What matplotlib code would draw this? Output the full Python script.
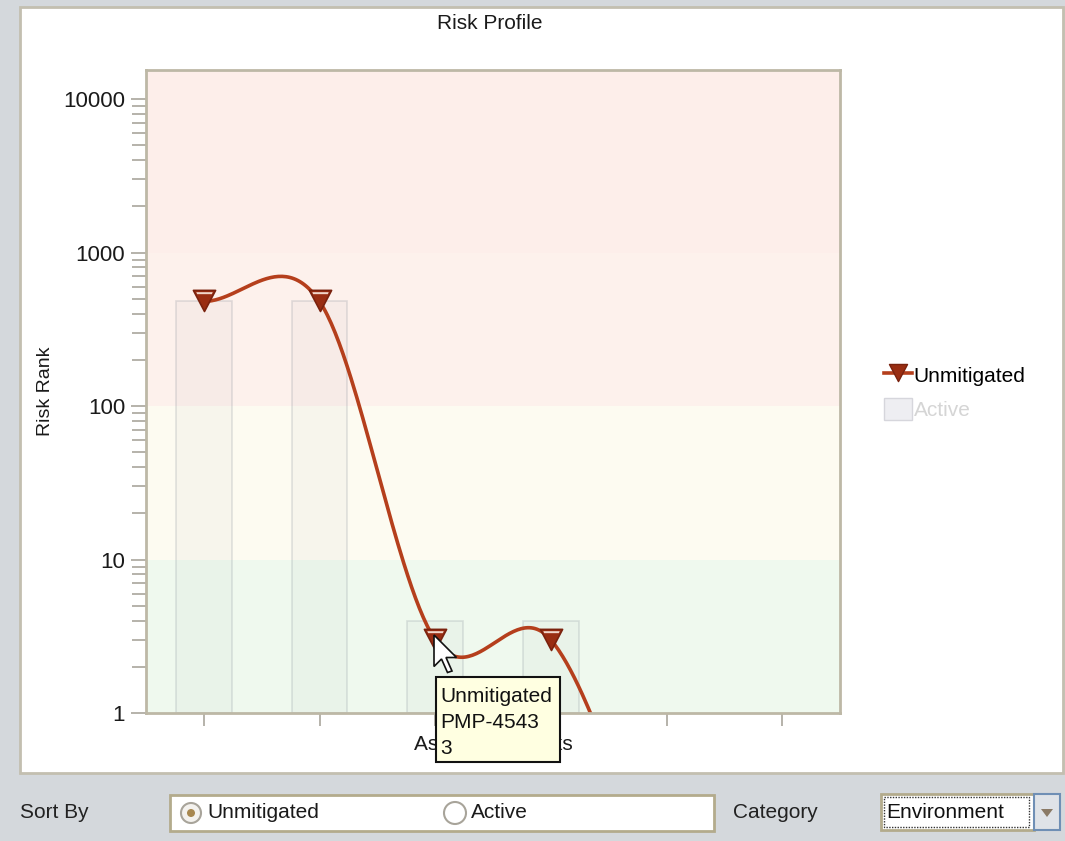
import numpy as np
import matplotlib

matplotlib.use("Agg")
import matplotlib.pyplot as plt
from matplotlib.lines import Line2D
from matplotlib.patches import Rectangle, Circle, Polygon, Patch
from matplotlib.path import Path
from matplotlib.ticker import NullFormatter, FixedLocator

plt.rcParams["font.family"] = ["Liberation Sans", "DejaVu Sans"]

W, H = 1065, 841

# data
slots = [0, 1, 2, 3, 4, 5]
unmitigated_x = [0, 1, 2, 3, 4]
unmitigated = [480, 480, 3, 3, 0.05]
active_x = [0, 1, 2, 3]
active = [480, 480, 3, 3]
y_ticks = [1, 10, 100, 1000, 10000]
band_edges = [1, 10, 100, 1000, 15450]
band_colors = ["#eff9ee", "#fdfbf1", "#fdf1ec", "#fdeeea"]
tooltip_lines = ["Unmitigated", "PMP-4543", "3"]

LINE = "#b53f1c"
MARK = "#992d12"


def smooth(xs, ys, steps=60):
    """Cardinal (Catmull-Rom) curve through the points, in log space."""
    xs = np.asarray(xs, float)
    ly = np.log10(np.asarray(ys, float))
    m = np.empty(len(ly))
    m[0] = ly[1] - ly[0]
    m[-1] = ly[-1] - ly[-2]
    m[1:-1] = (ly[2:] - ly[:-2]) / 2
    t = np.linspace(0, 1, steps)
    h00 = 2 * t**3 - 3 * t**2 + 1
    h10 = t**3 - 2 * t**2 + t
    h01 = -2 * t**3 + 3 * t**2
    h11 = t**3 - t**2
    px, py = [], []
    for i in range(len(xs) - 1):
        px.append(xs[i] + t * (xs[i + 1] - xs[i]))
        py.append(h00 * ly[i] + h10 * m[i] + h01 * ly[i + 1] + h11 * m[i + 1])
    return np.concatenate(px), 10 ** np.concatenate(py)


def fx(px):
    return px / W


def fy(py):
    return 1 - py / H


fig = plt.figure(figsize=(W / 100, H / 100), dpi=100, facecolor="#d4d8dc")

# background panel (pixel coords, y down)
bg = fig.add_axes([0, 0, 1, 1], zorder=0)
bg.set_xlim(0, W)
bg.set_ylim(H, 0)
bg.axis("off")
bg.add_patch(Rectangle((20, 7), 1043, 766, facecolor="white", edgecolor="#c3bfb0", lw=2))
bg.text(490, 23, "Risk Profile", ha="center", va="center", fontsize=15, color="#1a1a1a")
bg.text(46, 391, "Risk Rank", ha="center", va="center", rotation=90, fontsize=14, color="#1a1a1a")
bg.text(493, 745, "Associated Risks", ha="center", va="center", fontsize=15, color="#1a1a1a")

# bottom controls
bg.text(20, 813, "Sort By", ha="left", va="center", fontsize=15, color="#222222")
bg.add_patch(Rectangle((170, 795), 544, 36, facecolor="white", edgecolor="#b3ab8c", lw=2))
bg.add_patch(Circle((191, 813), 10, facecolor="#f4f2ee", edgecolor="#a8a49a", lw=1.5))
bg.add_patch(Circle((191, 813), 4, facecolor="#a88850", edgecolor="none"))
bg.text(207, 813, "Unmitigated", ha="left", va="center", fontsize=15, color="#1a1a1a")
bg.add_patch(Circle((455, 813), 11, facecolor="white", edgecolor="#a8a49a", lw=1.5))
bg.text(471, 813, "Active", ha="left", va="center", fontsize=15, color="#1a1a1a")
bg.text(733, 813, "Category", ha="left", va="center", fontsize=15, color="#222222")
bg.add_patch(Rectangle((881, 794), 153, 36, facecolor="white", edgecolor="#b3ab8c", lw=2))
bg.add_patch(Rectangle((884, 797), 145, 30, facecolor="none", edgecolor="#333333", lw=1,
                       linestyle=(0, (1, 1))))
bg.text(886, 813, "Environment", ha="left", va="center", fontsize=15, color="#111111")
bg.add_patch(Rectangle((1034, 794), 26, 36, facecolor="#dfe3e8", edgecolor="#6f8fb5", lw=1.5))
bg.add_patch(Polygon([(1041, 809), (1053, 809), (1047, 817)], closed=True,
                     facecolor="#8a7a66", edgecolor="none"))

# chart
ax = fig.add_axes([fx(146), fy(713), fx(840) - fx(146), fy(70) - fy(713)], zorder=1)
ax.set_yscale("log")
ax.set_xlim(-0.5, 5.5)
ax.set_ylim(band_edges[0], band_edges[-1])
for lo, hi, c in zip(band_edges[:-1], band_edges[1:], band_colors):
    ax.axhspan(lo, hi, color=c, lw=0, zorder=0)

ax.bar(active_x, active, width=0.48, bottom=1, facecolor=(0.45, 0.45, 0.5, 0.045),
       edgecolor=(0.55, 0.58, 0.62, 0.25), lw=1.2, zorder=1)

cx, cy = smooth(unmitigated_x, unmitigated)
ax.plot(cx, cy, color=LINE, lw=2.6, zorder=2, solid_capstyle="round")

tri = Path([(-1, 1), (1, 1), (0, -0.9), (-1, 1)],
           [Path.MOVETO, Path.LINETO, Path.LINETO, Path.CLOSEPOLY])
band = Path([(-1, -0.9), (1, 1), (-0.74, 0.84), (0.74, 0.84), (0.66, 0.66), (-0.66, 0.66), (-0.74, 0.84)],
            [Path.MOVETO, Path.MOVETO, Path.MOVETO, Path.LINETO, Path.LINETO, Path.LINETO, Path.CLOSEPOLY])
ax.plot(unmitigated_x, unmitigated, ls="none", marker=tri, ms=16, mfc=MARK, mec="#7a220e",
        mew=1.2, zorder=3)
ax.plot(unmitigated_x, unmitigated, ls="none", marker=band, ms=16, mfc="#f0d6ca", mec="none",
        zorder=4)

for s in ax.spines.values():
    s.set_color("#bdb8a6")
    s.set_linewidth(2)
ax.set_xticks(slots)
ax.set_xticklabels([])
ax.yaxis.set_major_locator(FixedLocator(y_ticks))
ax.set_yticklabels([str(v) for v in y_ticks])
ax.yaxis.set_minor_formatter(NullFormatter())
ax.tick_params(axis="both", which="both", direction="out", color="#a9a69c", width=1.2)
ax.tick_params(axis="y", which="major", length=11, labelsize=16, labelcolor="#1a1a1a", pad=4)
ax.tick_params(axis="y", which="minor", length=10)
ax.tick_params(axis="x", length=9)

handles = [
    Line2D([0], [0], color=LINE, lw=2.6, marker=tri, ms=13, mfc=MARK, mec="#7a220e"),
    Patch(facecolor="#eeeef2", edgecolor="#d6d6dc"),
]
leg = ax.legend(handles, ["Unmitigated", "Active"], loc="center left",
                bbox_to_anchor=(fx(874), fy(392)), bbox_transform=fig.transFigure,
                frameon=False, fontsize=15, handlelength=1.3, handleheight=1.2,
                handletextpad=0.1, labelspacing=0.6, borderpad=0)
leg.get_texts()[1].set_color("#d5d5d5")

# tooltip and mouse pointer on top
fg = fig.add_axes([0, 0, 1, 1], zorder=2)
fg.set_xlim(0, W)
fg.set_ylim(H, 0)
fg.axis("off")
cur = np.array([(0, 0), (0, 21), (5, 16), (9, 25), (12, 24), (8, 15), (15, 15)]) * 1.5
fg.add_patch(Polygon(cur + [434, 635], closed=True, facecolor="white", edgecolor="#111111",
                     lw=1.2))
fg.add_patch(Rectangle((436, 677), 124, 85, facecolor="#ffffe1", edgecolor="#111111", lw=1.5))
for i, line in enumerate(tooltip_lines):
    fg.text(440, 696 + i * 26, line, ha="left", va="center", fontsize=15, color="#111111")

fig.savefig("out.png", dpi=100, facecolor=fig.get_facecolor())
